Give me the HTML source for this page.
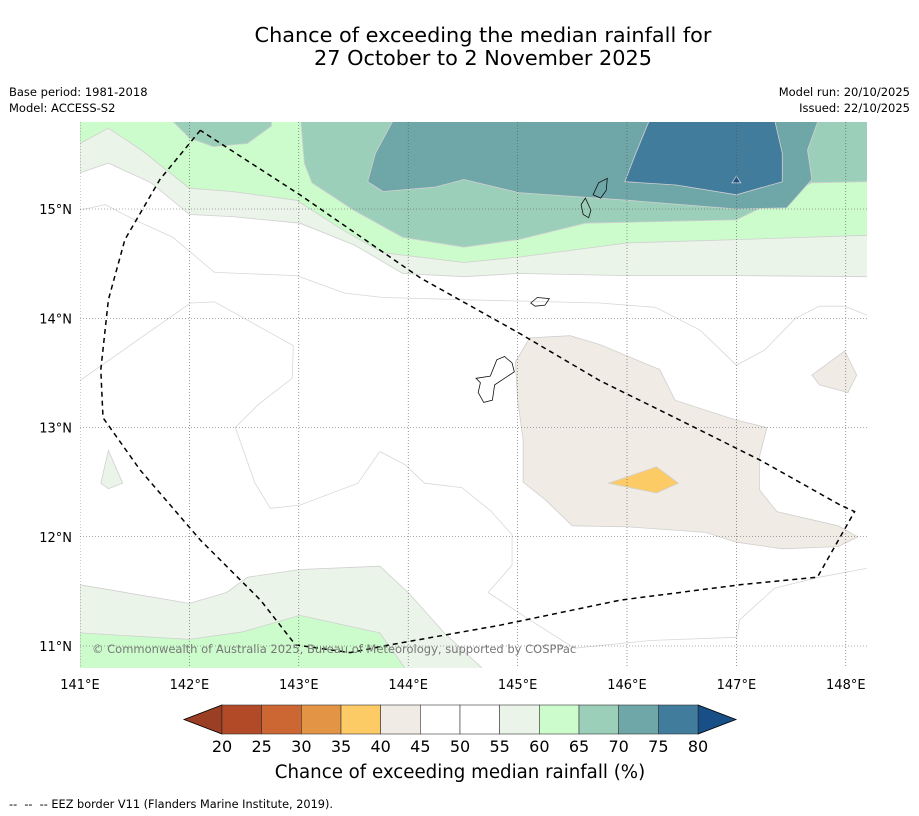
<!DOCTYPE html>
<html><head><meta charset="utf-8">
<style>
body{margin:0;background:#fff;width:919px;height:816px;overflow:hidden;font-family:"Liberation Sans","DejaVu Sans",sans-serif;}
svg{position:absolute;left:0;top:0}
text{font-family:"DejaVu Sans","Liberation Sans",sans-serif;}
</style></head>
<body>
<svg id="chart" width="919" height="816" viewBox="0 0 919 816">
  <text x="483" y="42" font-size="20.8" text-anchor="middle">Chance of exceeding the median rainfall for</text>
  <text x="483" y="65" font-size="20.8" text-anchor="middle">27 October to 2 November 2025</text>
  <text x="9" y="96" font-size="11.5">Base period: 1981-2018</text>
  <text x="9" y="112" font-size="11.5">Model: ACCESS-S2</text>
  <text x="910" y="96" font-size="11.5" text-anchor="end">Model run: 20/10/2025</text>
  <text x="910" y="112" font-size="11.5" text-anchor="end">Issued: 22/10/2025</text>
  <defs><clipPath id="mapclip"><rect x="80" y="122" width="787" height="546"/></clipPath></defs>
  <g id="map" clip-path="url(#mapclip)">
    <rect x="80" y="122" width="787" height="546" fill="#fff"/>
  </g>
  <g id="axes"></g>
  <g id="cbar"></g>
  <text x="460" y="778" font-size="18.2" text-anchor="middle">Chance of exceeding median rainfall (%)</text>
  <text x="9" y="808" font-size="11.3" xml:space="preserve">--  --  -- EEZ border V11 (Flanders Marine Institute, 2019).</text>
</svg>
<script>
const lonTicks=[141,142,143,144,145,146,147,148];
const latTicks=[11,12,13,14,15];
const band55Top=[[141,15.33],[141.26,15.42],[141.65,15.24],[142.0,14.95],[142.39,14.93],[143.01,14.87],[143.51,14.67],[143.95,14.41],[144.51,14.38],[145.01,14.41],[146.01,14.39],[147.0,14.39],[148.22,14.38],[148.22,15.9],[141,15.9]];
const band60Top=[[141,15.60],[141.26,15.74],[141.56,15.54],[142.0,15.19],[142.39,15.16],[142.98,15.08],[143.40,14.81],[143.77,14.60],[144.51,14.51],[145.01,14.56],[146.01,14.69],[147.0,14.72],[148.22,14.76],[148.22,15.9],[141,15.9]];
const band65Top=[[143.01,15.9],[143.05,15.42],[143.12,15.24],[143.50,14.99],[143.95,14.74],[144.51,14.65],[145.01,14.72],[145.62,14.87],[147.0,14.90],[147.69,15.24],[148.22,15.25],[148.22,15.9]];
const band65Blob=[[141.85,15.9],[141.85,15.80],[142.0,15.65],[142.22,15.57],[142.53,15.60],[142.75,15.76],[142.75,15.9]];
const band70=[[143.91,15.9],[143.70,15.51],[143.63,15.25],[143.77,15.16],[144.24,15.20],[144.51,15.27],[145.01,15.15],[146.01,15.08],[147.0,15.0],[147.46,15.01],[147.69,15.27],[147.65,15.54],[147.78,15.9]];
const band75=[[146.24,15.9],[146.08,15.51],[145.98,15.25],[146.45,15.22],[147.0,15.13],[147.42,15.25],[147.42,15.51],[147.33,15.9]];
const band80=[[146.96,15.24],[147.0,15.30],[147.04,15.24]];
const band55Bottom=[[141,11.56],[142.0,11.39],[142.34,11.49],[142.53,11.63],[143.01,11.70],[143.74,11.73],[144.0,11.49],[144.33,11.12],[144.78,10.70],[141,10.70]];
const band60Bottom=[[141,11.12],[142.0,11.06],[142.49,11.13],[143.01,11.28],[143.74,11.12],[144.04,10.70],[141,10.70]];
const band55Patch=[[141.26,12.79],[141.39,12.49],[141.26,12.44],[141.19,12.49]];
const band40=[[145.05,12.89],[145.05,12.50],[145.25,12.34],[145.50,12.10],[146.01,12.09],[146.72,12.04],[147.0,11.95],[147.42,11.89],[147.93,11.91],[148.11,12.0],[147.93,12.10],[147.37,12.23],[147.21,12.43],[147.21,12.73],[147.28,13.0],[146.99,13.07],[146.44,13.25],[146.30,13.53],[145.75,13.76],[145.48,13.84],[145.11,13.82],[144.98,13.60],[145.0,13.25]];
const band40Blob=[[147.69,13.48],[147.99,13.70],[148.10,13.48],[148.02,13.32],[147.76,13.39]];
const band35=[[145.83,12.49],[146.27,12.64],[146.47,12.49],[146.27,12.40]];
const contour50a=[[141,13.43],[142.01,14.14],[142.23,14.15],[142.95,13.75],[142.94,13.45],[142.63,13.21],[142.42,13.0],[142.6,12.49],[142.74,12.26],[143.01,12.29],[143.54,12.49],[143.74,12.78],[143.97,12.66],[144.15,12.49],[144.49,12.45],[144.75,12.24],[144.95,12.02],[144.95,11.74],[144.73,11.49],[145.11,11.24],[145.52,10.98],[146.21,11.05],[147.0,11.08],[147.03,11.24],[147.35,11.53],[147.76,11.63],[148.19,11.71]];
const contour50b=[[141,14.99],[141.23,15.04],[141.50,14.90],[141.85,14.74],[142.23,14.42],[142.98,14.39],[143.42,14.23],[143.77,14.19],[144.51,14.17],[145.75,14.14],[146.26,14.10],[146.67,13.89],[147.0,13.57],[147.26,13.71],[147.54,14.0],[147.76,14.11],[147.99,14.11],[148.19,14.03]];
const eez=[[142.10,15.72],[141.73,15.27],[141.41,14.72],[141.26,14.17],[141.19,13.53],[141.21,13.09],[141.55,12.61],[142.10,11.97],[142.65,11.42],[142.97,11.01],[143.47,10.94],[143.83,11.01],[144.84,11.19],[145.94,11.42],[147.03,11.56],[147.74,11.63],[148.08,12.23],[147.95,12.29],[147.22,12.70],[146.48,13.07],[145.75,13.43],[145.02,13.86],[144.11,14.37],[143.01,15.13],[142.10,15.72]];
const guam=[[144.62,13.45],[144.75,13.47],[144.81,13.62],[144.88,13.65],[144.95,13.59],[144.97,13.51],[144.88,13.45],[144.79,13.39],[144.77,13.25],[144.69,13.23],[144.64,13.32],[144.66,13.41]];
const rota=[[145.12,14.14],[145.18,14.19],[145.29,14.18],[145.25,14.12],[145.16,14.11]];
const saipan=[[145.69,15.13],[145.74,15.24],[145.82,15.28],[145.81,15.17],[145.76,15.10]];
const tinian=[[145.58,15.04],[145.62,15.10],[145.67,14.99],[145.65,14.92],[145.60,14.95]];
const cbLevels=[20,25,30,35,40,45,50,55,60,65,70,75,80];
const cbColors=["#b34a27","#cc6633","#e39545","#fdcb66","#f0ebe4","#ffffff","#ffffff","#eaf4e8","#ccfccc","#9ccfb9","#6fa6a8","#417c9c"];
const cbUnder="#9b3f24", cbOver="#174f86";

const NS="http://www.w3.org/2000/svg";
function X(lon){return 80+(lon-141)*109.4;}
function Y(lat){return 209+(15-lat)*109.25;}
function pts(a){return a.map(p=>X(p[0]).toFixed(1)+","+Y(p[1]).toFixed(1)).join(" ");}
function mk(tag,attrs,parent){const e=document.createElementNS(NS,tag);for(const k in attrs)e.setAttribute(k,attrs[k]);parent.appendChild(e);return e;}
const map=document.getElementById('map');
function poly(a,fill,name){
  const e=mk('polygon',{points:pts(a),fill:fill,stroke:"#d0d0d0","stroke-width":"0.8"},map);
  
  
}
poly(band55Top,"#eaf4e8","band-55-60-north");
poly(band60Top,"#ccfccc","band-60-65-north");
poly(band65Top,"#9ccfb9","band-65-70-north");
poly(band65Blob,"#9ccfb9","band-65-70-blob");
poly(band70,"#6fa6a8","band-70-75");
poly(band75,"#417c9c","band-75-80");
poly(band80,"#174f86","band-above-80");
poly(band55Bottom,"#eaf4e8","band-55-60-south");
poly(band60Bottom,"#ccfccc","band-60-65-south");
poly(band55Patch,"#eaf4e8","band-55-60-patch");
poly(band40,"#f0ebe4","band-40-45");
poly(band40Blob,"#f0ebe4","band-40-45-blob");
poly(band35,"#fdcb66","band-35-40");
function line(a,attrs,name){
  const e=mk('polyline',Object.assign({points:pts(a),fill:"none"},attrs),map);
  
  
}
line(contour50a,{stroke:"#d8d8d8","stroke-width":"0.8"},"contour-50-south");
line(contour50b,{stroke:"#d8d8d8","stroke-width":"0.8"},"contour-50-north");
lonTicks.forEach(l=>{const e=mk('line',{x1:X(l),x2:X(l),y1:122,y2:668,stroke:"#555","stroke-width":"0.6","stroke-dasharray":"1,2"},map);
  
  });
latTicks.forEach(l=>{const e=mk('line',{x1:80,x2:867,y1:Y(l),y2:Y(l),stroke:"#555","stroke-width":"0.6","stroke-dasharray":"1,2"},map);
  
  });
[guam,rota,saipan,tinian].forEach((isl,i)=>{const e=mk('polygon',{points:pts(isl),fill:"none",stroke:"#111","stroke-width":"0.8"},map);
  
  });
line(eez,{stroke:"#000","stroke-width":"1.5","stroke-dasharray":"5,4"},"eez-border");
const cr=mk('text',{x:92,y:653,"font-size":"11.5",fill:"#777"},map);
cr.textContent="© Commonwealth of Australia 2025, Bureau of Meteorology, supported by COSPPac";


const ax=document.getElementById('axes');
lonTicks.forEach(l=>{const t=mk('text',{x:X(l),y:689,"font-size":"13","text-anchor":"middle"},ax);t.textContent=l+"°E";
  
  });
latTicks.forEach(l=>{const t=mk('text',{x:72,y:Y(l)+5,"font-size":"13","text-anchor":"end"},ax);t.textContent=l+"°N";
  
  });
const cb=document.getElementById('cbar');
const cbX0=222,cbX1=698,cbY=705,cbH=29;
const bw=(cbX1-cbX0)/cbColors.length;
const u=mk('polygon',{points:`${cbX0},${cbY} ${cbX0},${cbY+cbH} 184,${cbY+cbH/2}`,fill:cbUnder,stroke:"#000","stroke-width":"0.8"},cb);


const o=mk('polygon',{points:`${cbX1},${cbY} ${cbX1},${cbY+cbH} 736,${cbY+cbH/2}`,fill:cbOver,stroke:"#000","stroke-width":"0.8"},cb);


cbColors.forEach((c,i)=>{const r=mk('rect',{x:cbX0+i*bw,y:cbY,width:bw,height:cbH,fill:c,stroke:"#333","stroke-width":"0.6"},cb);
  
  });
cbLevels.forEach((v,i)=>{const t=mk('text',{x:cbX0+i*bw,y:752,"font-size":"16","text-anchor":"middle"},cb);t.textContent=v;
  
  });
</script>
</body></html>
